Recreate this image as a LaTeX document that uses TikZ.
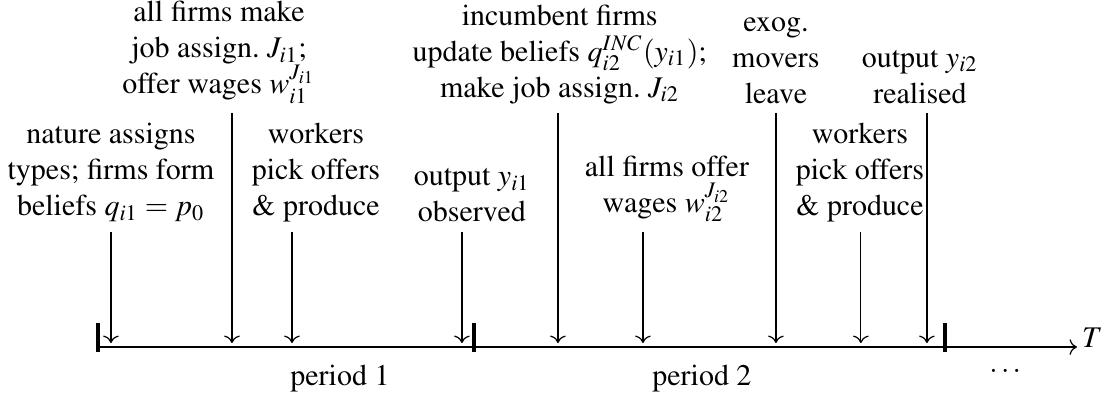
\documentclass[tikz,border=0pt]{standalone}
\usepackage[T1]{fontenc}
\usepackage{mathptmx}
\usepackage{tikz}
\usetikzlibrary{arrows.meta,positioning,calc}

\begin{document}
\begin{tikzpicture}[
  lbl/.style={align=center,anchor=south,inner sep=3pt},
  ev/.style={->},
  tck/.style={line width=1.5pt}
]
\useasboundingbox (-1.148,-0.680) rectangle (11.845,4.066);
% time axis
\coordinate (o) at (0,0);
\coordinate (tend) at (11.47,0);
\draw[->] (o) -- (tend);
\node[anchor=base west,inner sep=1.5pt] (T) at (tend) {$T$};
\draw[tck] (0,-0.06) -- (0,0.28);
\draw[tck] (4.405,-0.06) -- (4.405,0.28);
\draw[tck] (9.923,-0.06) -- (9.923,0.28);
\coordinate (hit) at (0,0.047);
% arrow tops
\coordinate (e1) at (0.152,1.35);
\coordinate (e2) at (1.570,2.74);
\coordinate (e3) at (2.273,1.35);
\coordinate (e4) at (4.264,1.35);
\coordinate (e5) at (5.389,2.74);
\coordinate (e6) at (6.385,1.35);
\coordinate (e7) at (7.943,2.74);
\coordinate (e8) at (8.938,1.35);
\coordinate (e9) at (9.712,2.74);
% events
\node[lbl] (nat) at (0.152,1.35) {nature assigns\\types; firms form\\beliefs $q_{i1}=p_0$};
\node[lbl] (job1) at (1.418,2.74) {all firms make\\job assign.\ $J_{i1}$;\\offer wages $w_{i1}^{J_{i1}}$};
\node[lbl] (pick1) at (2.554,1.35) {workers\\pick offers\\\& produce};
\node[lbl] (out1) at (4.381,1.35) {output $y_{i1}$\\observed};
\node[lbl] (inc) at (5.41,2.74) {incumbent firms\\update beliefs $q_{i2}^{INC}(y_{i1})$;\\make job assign.\ $J_{i2}$};
\node[lbl] (wage2) at (6.666,1.35) {all firms offer\\wages $w_{i2}^{J_{i2}}$};
\node[lbl] (exo) at (7.943,2.74) {exog.\\movers\\leave};
\node[lbl] (pick2) at (8.927,1.35) {workers\\pick offers\\\& produce};
\node[lbl] (out2) at (9.630,2.74) {output $y_{i2}$\\realised};
\draw[ev] (e1) -- (e1|-hit); \draw[ev] (e2) -- (e2|-hit); \draw[ev] (e3) -- (e3|-hit);
\draw[ev] (e4) -- (e4|-hit); \draw[ev] (e5) -- (e5|-hit); \draw[ev] (e6) -- (e6|-hit);
\draw[ev] (e7) -- (e7|-hit); \draw[ev] (e8) -- (e8|-hit); \draw[ev] (e9) -- (e9|-hit);
% periods
\node[anchor=base] (p1) at (2.835,-0.446) {period 1};
\node[anchor=base] (p2) at (7.076,-0.446) {period 2};
\node[anchor=base] (more) at (10.63,-0.30) {$\ldots$};
\end{tikzpicture}
\end{document}
